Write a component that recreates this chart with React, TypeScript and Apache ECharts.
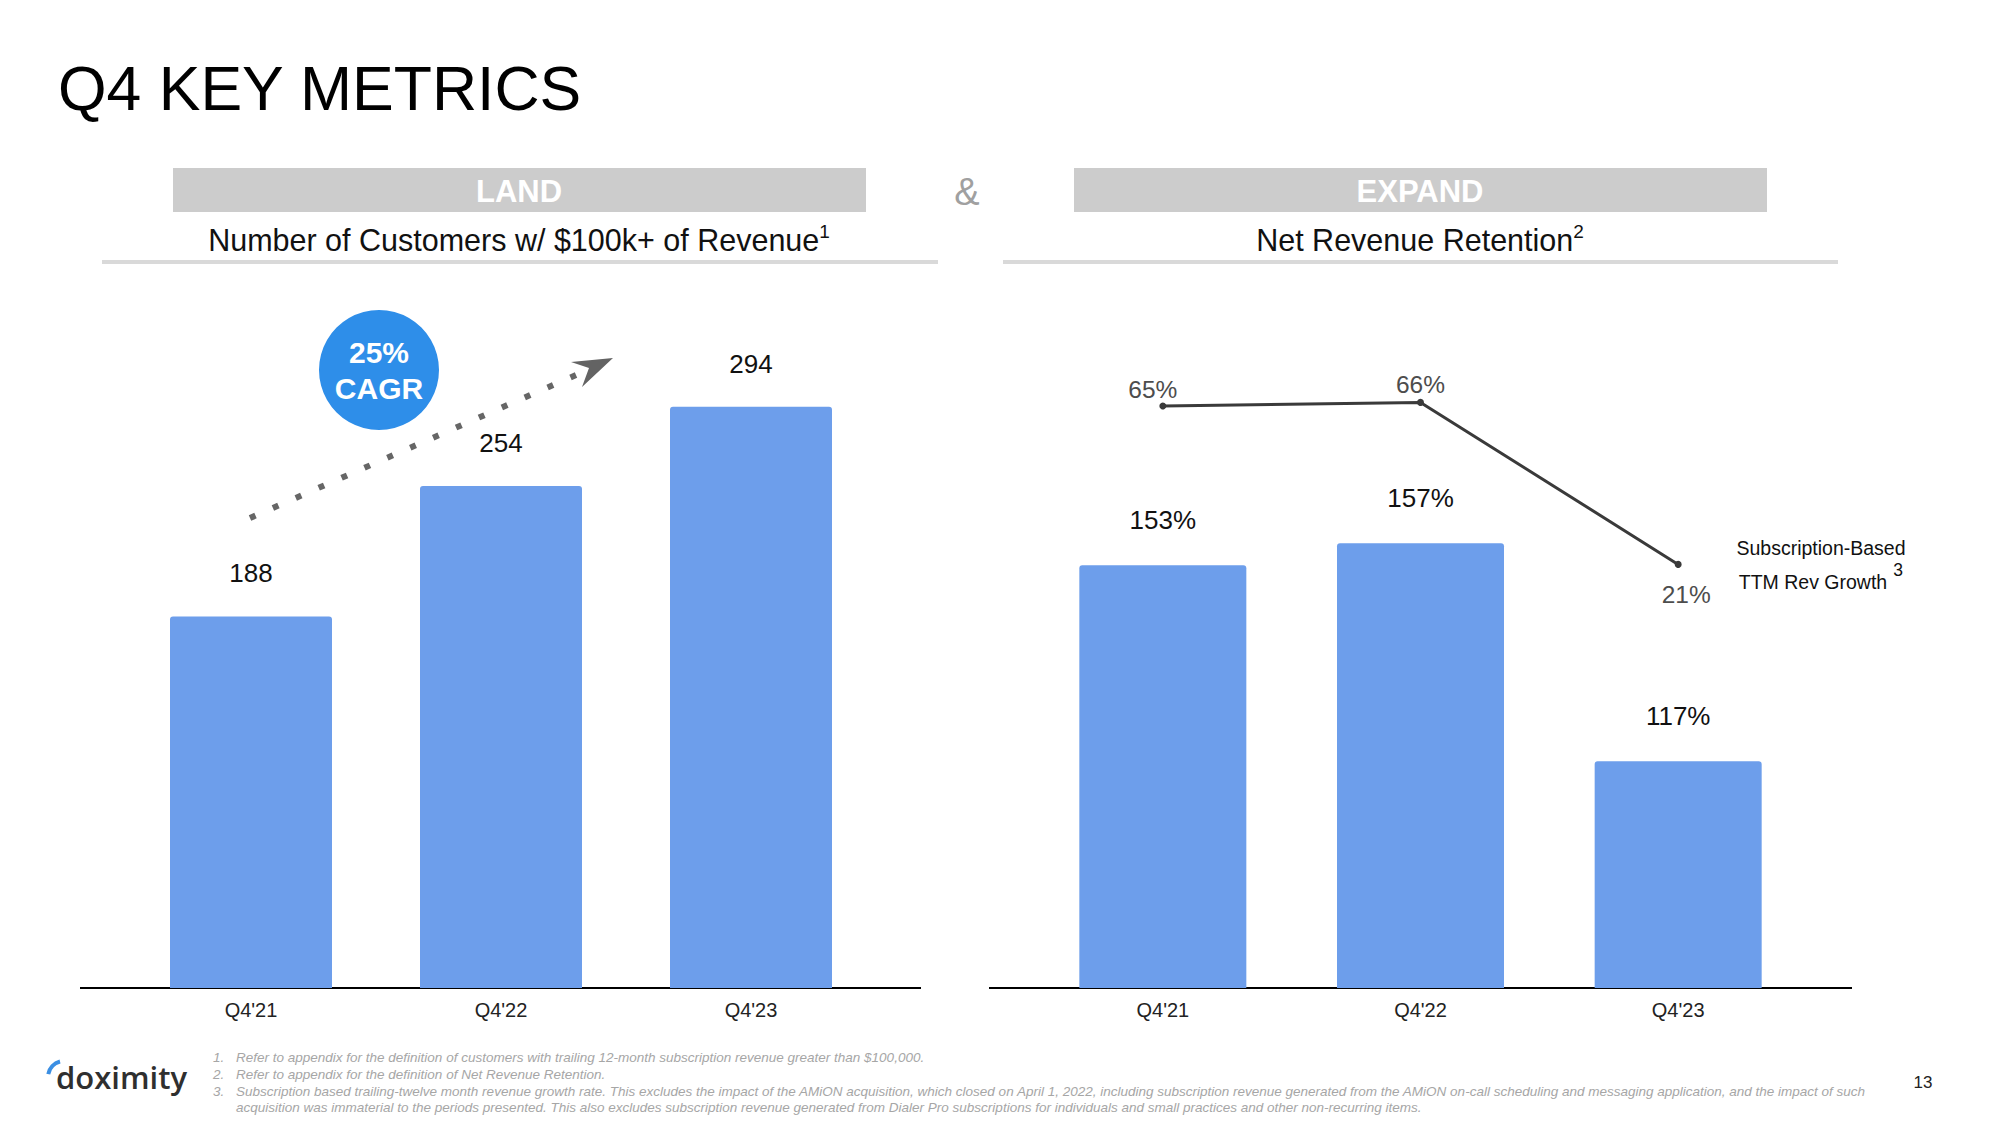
import React, { useEffect, useRef } from "react";
import * as echarts from "echarts";

const FONT = "'Liberation Sans', Arial, Helvetica, sans-serif";

// ---- data ----
const categories = ["Q4'21", "Q4'22", "Q4'23"];
const customers = [188, 254, 294];
const netRevenueRetention = [153, 157, 117];
const ttmRevGrowth = [65, 66, 21];

const footnoteNumbers = ["1.", "2.", "3.", ""];
const footnoteTexts = [
  "Refer to appendix for the definition of customers with trailing 12-month subscription revenue greater than $100,000.",
  "Refer to appendix for the definition of Net Revenue Retention.",
  "Subscription based trailing-twelve month revenue growth rate. This excludes the impact of the AMiON acquisition, which closed on April 1, 2022, including subscription revenue generated from the AMiON on-call scheduling and messaging application, and the impact of such",
  "acquisition was immaterial to the periods presented. This also excludes subscription revenue generated from Dialer Pro subscriptions for individuals and small practices and other non-recurring items.",
];

const BAR_COLOR = "#6d9eeb";

function txt(
  text: string,
  x: number,
  y: number,
  size: number,
  opts: { fill?: string; weight?: any; align?: string; style?: string; family?: string; vAlign?: string } = {}
) {
  const align = opts.align || "center";
  const vAlign = opts.vAlign || "middle";
  return {
    type: "text",
    x,
    y,
    silent: true,
    style: {
      text,
      fill: opts.fill || "#111",
      fontSize: size,
      fontFamily: opts.family || FONT,
      fontWeight: opts.weight || "normal",
      fontStyle: opts.style || "normal",
      textAlign: align,
      align,
      textVerticalAlign: vAlign,
      verticalAlign: vAlign,
    },
  };
}

// per-point placement of line labels
const lineLabelPlacement = [
  { position: "top", distance: 2, offset: [-10, 1] },
  { position: "top", distance: 2, offset: [0, 0] },
  { position: "bottom", distance: 14, offset: [8, 0] },
];

function subtitle(main: string, sup: string, x: number) {
  return [
    {
      type: "text",
      x,
      y: 240,
      silent: true,
      style: {
        text: "{m|" + main + "}{s|" + sup + "}",
        textAlign: "center",
        align: "center",
        textVerticalAlign: "middle",
        verticalAlign: "middle",
        rich: {
          m: { fontSize: 30.5, fontFamily: FONT, fill: "#111", color: "#111" },
          s: { fontSize: 19, fontFamily: FONT, fill: "#111", color: "#111", verticalAlign: "top", padding: [0, 0, 18, 0] },
        },
      },
    },
  ];
}

export default function App() {
  const ref = useRef<HTMLDivElement>(null);

  useEffect(() => {
    const chart = echarts.init(ref.current!, null, { renderer: "svg", width: 2000, height: 1125 });

    const footnoteGraphics: any[] = [];
    const footY = [1057, 1074, 1091, 1107];
    footnoteTexts.forEach((t, i) => {
      if (footnoteNumbers[i]) {
        footnoteGraphics.push(txt(footnoteNumbers[i], 213, footY[i], 13.5, { fill: "#a6a6a6", align: "left", style: "italic" }));
      }
      footnoteGraphics.push(txt(t, 236, footY[i], 13.5, { fill: "#a6a6a6", align: "left", style: "italic" }));
    });

    const option: any = {
      animation: false,
      backgroundColor: "#ffffff",
      grid: [
        { left: 126, width: 750, top: 395, height: 593 },
        { left: 1034, width: 773, top: 527, height: 461 },
        { left: 1034, width: 773, top: 388, height: 252 },
      ],
      xAxis: [
        {
          gridIndex: 0,
          type: "category",
          data: categories,
          axisLine: { show: false },
          axisTick: { show: false },
          axisLabel: { color: "#222", fontSize: 20, fontFamily: FONT, margin: 12 },
        },
        {
          gridIndex: 1,
          type: "category",
          data: categories,
          axisLine: { show: false },
          axisTick: { show: false },
          axisLabel: { color: "#222", fontSize: 20, fontFamily: FONT, margin: 12 },
        },
        {
          gridIndex: 2,
          type: "category",
          data: categories,
          show: false,
        },
      ],
      yAxis: [
        { gridIndex: 0, type: "value", min: 0, max: 300, show: false, splitLine: { show: false } },
        { gridIndex: 1, type: "value", min: 75.4, max: 160, show: false, splitLine: { show: false } },
        { gridIndex: 2, type: "value", min: 0, max: 70, show: false, splitLine: { show: false } },
      ],
      series: [
        {
          name: "Customers $100k+",
          type: "bar",
          xAxisIndex: 0,
          yAxisIndex: 0,
          data: customers,
          barWidth: 162,
          itemStyle: { color: BAR_COLOR, borderRadius: [3, 3, 0, 0] },
          label: {
            show: true,
            position: "top",
            distance: 30,
            color: "#111",
            fontSize: 26,
            fontFamily: FONT,
            formatter: "{c}",
          },
        },
        {
          name: "Net Revenue Retention",
          type: "bar",
          xAxisIndex: 1,
          yAxisIndex: 1,
          data: netRevenueRetention,
          barWidth: 167,
          itemStyle: { color: BAR_COLOR, borderRadius: [3, 3, 0, 0] },
          label: {
            show: true,
            position: "top",
            distance: 32,
            color: "#111",
            fontSize: 26,
            fontWeight: 500,
            fontFamily: FONT,
            formatter: "{c}%",
          },
        },
        {
          name: "Subscription-Based TTM Rev Growth",
          type: "line",
          xAxisIndex: 2,
          yAxisIndex: 2,
          data: ttmRevGrowth.map((v, i) => ({
            value: v,
            label: lineLabelPlacement[i],
          })),
          symbol: "circle",
          symbolSize: 7,
          lineStyle: { color: "#3a3a3a", width: 3 },
          itemStyle: { color: "#3a3a3a" },
          label: {
            show: true,
            color: "#4d4d4d",
            fontSize: 24.5,
            fontFamily: FONT,
            formatter: "{c}%",
          },
        },
      ],
      graphic: [
        // title
        txt("Q4 KEY METRICS", 58, 88, 62.5, { fill: "#000", align: "left" }),
        // banners
        { type: "rect", silent: true, shape: { x: 173, y: 168, width: 693, height: 44 }, style: { fill: "#cccccc" } },
        { type: "rect", silent: true, shape: { x: 1074, y: 168, width: 693, height: 44 }, style: { fill: "#cccccc" } },
        txt("LAND", 519, 191, 31, { fill: "#fff", weight: "bold" }),
        txt("EXPAND", 1420, 191, 31, { fill: "#fff", weight: "bold" }),
        txt("&", 967, 192, 38, { fill: "#a0a0a0" }),
        // subtitles
        ...subtitle("Number of Customers w/ $100k+ of Revenue", "1", 519),
        ...subtitle("Net Revenue Retention", "2", 1420),
        // gray rules
        { type: "rect", silent: true, shape: { x: 102, y: 260, width: 836, height: 4 }, style: { fill: "#d9d9d9" } },
        { type: "rect", silent: true, shape: { x: 1003, y: 260, width: 835, height: 4 }, style: { fill: "#d9d9d9" } },
        // axis baselines
        { type: "line", silent: true, shape: { x1: 80, y1: 988, x2: 921, y2: 988 }, style: { stroke: "#000", lineWidth: 2 } },
        { type: "line", silent: true, shape: { x1: 989, y1: 988, x2: 1852, y2: 988 }, style: { stroke: "#000", lineWidth: 2 } },
        // dotted CAGR arrow
        {
          type: "line",
          silent: true,
          shape: { x1: 250, y1: 518, x2: 576, y2: 375 },
          style: { stroke: "#666", lineWidth: 6, lineDash: [6, 19], lineCap: "butt" },
        },
        {
          type: "polygon",
          silent: true,
          shape: { points: [[613, 358], [571, 362], [589, 368], [582, 387]] },
          style: { fill: "#636363" },
        },
        // CAGR bubble
        { type: "circle", silent: true, shape: { cx: 379, cy: 370, r: 60 }, style: { fill: "#2e8ee9" } },
        txt("25%", 379, 352, 30, { fill: "#fff", weight: "bold" }),
        txt("CAGR", 379, 388, 30, { fill: "#fff", weight: "bold" }),
        // line annotation
        txt("Subscription-Based", 1821, 548, 19.5, { fill: "#111" }),
        txt("TTM Rev Growth", 1813, 582, 19.5, { fill: "#111" }),
        txt("3", 1898, 570, 17.5, { fill: "#111" }),
        // footer logo
        {
          type: "arc",
          silent: true,
          shape: { cx: 64, cy: 1077, r: 16, startAngle: Math.PI * 1.06, endAngle: Math.PI * 1.42 },
          style: { stroke: "#3b8fe3", lineWidth: 4, fill: "none" },
        },
        txt("doximity", 56, 1077, 31, { fill: "#2f2f2f", align: "left", weight: 600, family: "'Open Sans', 'Noto Sans', sans-serif" }),
        ...footnoteGraphics,
        txt("13", 1923, 1082, 17, { fill: "#222" }),
      ],
    };

    chart.setOption(option);
    return () => chart.dispose();
  }, []);

  return (
    <div
      ref={ref}
      style={{ position: "fixed", left: 0, top: 0, width: 2000, height: 1125, background: "#fff" }}
    />
  );
}
